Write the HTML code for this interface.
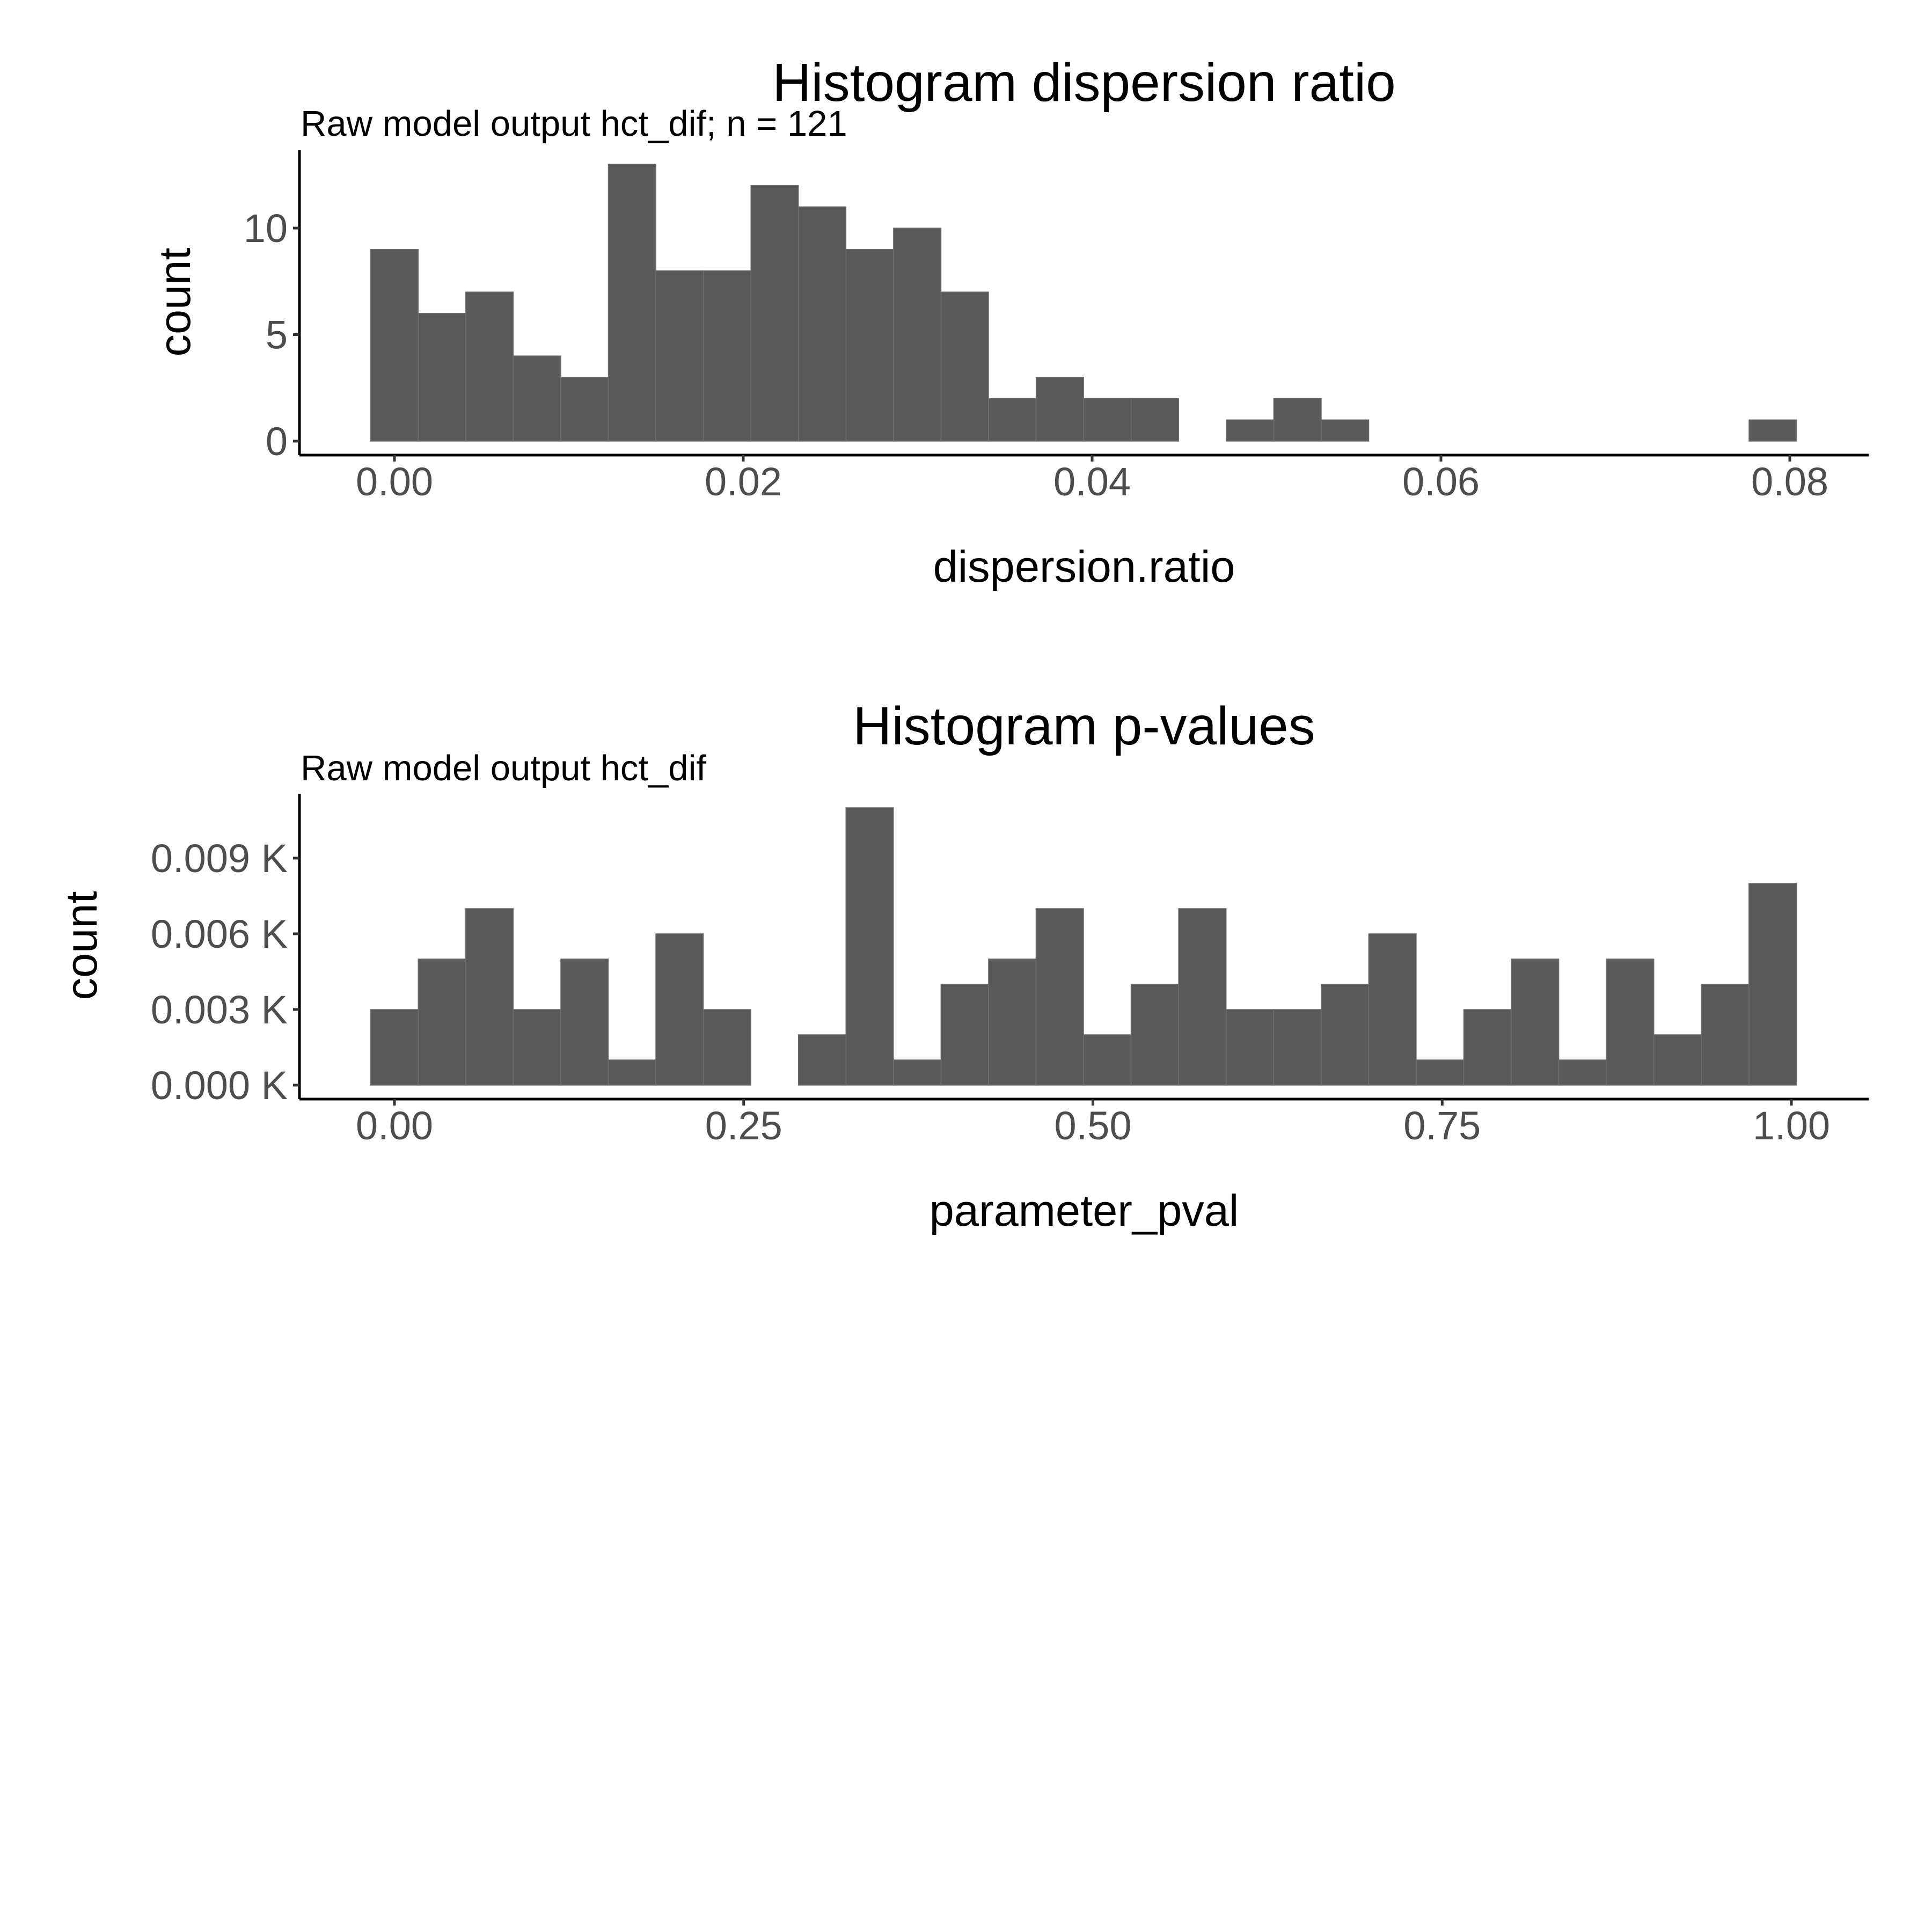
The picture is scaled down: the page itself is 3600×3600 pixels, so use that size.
<!DOCTYPE html>
<html><head><meta charset="utf-8"><style>
html,body{margin:0;padding:0;background:#fff}
svg{display:block}
text{font-family:"Liberation Sans",Arial,sans-serif}
</style></head><body>
<svg id="chart" width="3600" height="3600" viewBox="0 0 3600 3600" xmlns="http://www.w3.org/2000/svg">
<rect width="3600" height="3600" fill="#fff"/>
<g id="p1">
<text x="2020" y="188" font-size="100" text-anchor="middle" fill="#000">Histogram dispersion ratio</text>
<text x="560" y="253" font-size="67" fill="#000">Raw model output hct_dif; n = 121</text>
<text transform="translate(354,563) rotate(-90)" font-size="83" text-anchor="middle" fill="#000">count</text>
<text x="2020" y="1084" font-size="83" text-anchor="middle" fill="#000">dispersion.ratio</text>
</g>
<g id="p2">
<text x="2020" y="1387" font-size="100" text-anchor="middle" fill="#000">Histogram p-values</text>
<text x="560" y="1454" font-size="67" fill="#000">Raw model output hct_dif</text>
<text transform="translate(180,1762) rotate(-90)" font-size="83" text-anchor="middle" fill="#000">count</text>
<text x="2020" y="2284" font-size="83" text-anchor="middle" fill="#000">parameter_pval</text>
</g>
</svg>
<script>
const dispCounts = [9,6,7,4,3,13,8,8,12,11,9,10,7,2,3,2,2,0,1,2,1,0,0,0,0,0,0,0,0,1];
const dispBinWidth = 0.002725;
const dispXTicks = [0, 0.02, 0.04, 0.06, 0.08];
const dispXTickLabels = ["0.00","0.02","0.04","0.06","0.08"];
const dispYTicks = [0, 5, 10];
const dispYTickLabels = ["0","5","10"];

const pvalCounts = [3,5,7,3,5,1,6,3,0,2,11,1,4,5,7,2,4,7,3,3,4,6,1,3,5,1,5,2,4,8];
const pvalBinWidth = 0.03402;
const pvalXTicks = [0, 0.25, 0.5, 0.75, 1.0];
const pvalXTickLabels = ["0.00","0.25","0.50","0.75","1.00"];
const pvalYTicks = [0, 3, 6, 9];
const pvalYTickLabels = ["0.000 K","0.003 K","0.006 K","0.009 K"];

const NS = "http://www.w3.org/2000/svg";
function mk(tag, attrs, parent){const e=document.createElementNS(NS,tag);for(const k in attrs)e.setAttribute(k,attrs[k]);parent.appendChild(e);return e;}

function drawPanel(g, cfg){
  const xs = v => cfg.x0 + (v - cfg.d0) * cfg.xScale;
  const ys = v => cfg.base - v * cfg.yScale;
  cfg.counts.forEach((c,i)=>{
    if(c<=0) return;
    const center = i*cfg.bw;
    const r = mk('rect',{x:xs(center-cfg.bw/2),y:ys(c),width:cfg.bw*cfg.xScale,height:c*cfg.yScale,fill:'#595959',stroke:'#6e6e6e','stroke-width':1.5},g);
    
    
  });
  const ya = mk('line',{x1:cfg.axL,y1:cfg.axT,x2:cfg.axL,y2:cfg.axY,stroke:'#000','stroke-width':5},g);
  
  
  const xa = mk('line',{x1:cfg.axL,y1:cfg.axY,x2:cfg.axR,y2:cfg.axY,stroke:'#000','stroke-width':5},g);
  
  
  cfg.xt.forEach((v,i)=>{
    const x = xs(v);
    const t = mk('line',{x1:x,y1:cfg.axY,x2:x,y2:cfg.axY+12,stroke:'#333','stroke-width':5},g);
    
    
    const l = mk('text',{x:x,y:cfg.axY+75,'font-size':74,'text-anchor':'middle',fill:'#4d4d4d'},g);
    l.textContent = cfg.xl[i];
    
    
  });
  cfg.yt.forEach((v,i)=>{
    const y = ys(v);
    const t = mk('line',{x1:cfg.axL-12,y1:y,x2:cfg.axL,y2:y,stroke:'#333','stroke-width':5},g);
    
    
    const l = mk('text',{x:cfg.axL-22,y:y+26,'font-size':74,'text-anchor':'end',fill:'#4d4d4d'},g);
    l.textContent = cfg.yl[i];
    
    
  });
}
drawPanel(document.getElementById('p1'),{prefix:'dispersion',counts:dispCounts,bw:dispBinWidth,d0:0,x0:735,xScale:32500,base:822,yScale:39.7,axL:558,axR:3482,axT:280,axY:848,xt:dispXTicks,xl:dispXTickLabels,yt:dispYTicks,yl:dispYTickLabels});
drawPanel(document.getElementById('p2'),{prefix:'pval',counts:pvalCounts,bw:pvalBinWidth,d0:0,x0:735,xScale:2603,base:2022,yScale:47.0,axL:558,axR:3482,axT:1479,axY:2048,xt:pvalXTicks,xl:pvalXTickLabels,yt:pvalYTicks,yl:pvalYTickLabels});
</script>
</body></html>
